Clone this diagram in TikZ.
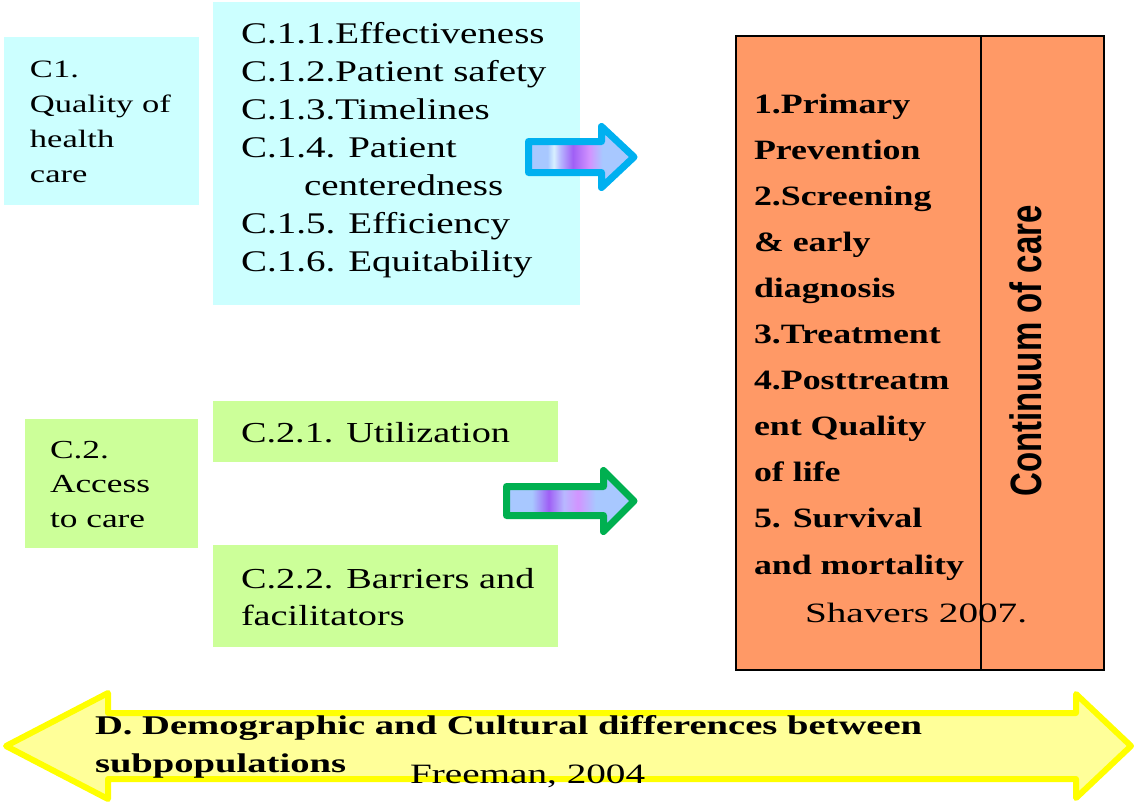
\documentclass[tikz,border=0pt]{standalone}
\usepackage{fontspec}
\setmainfont{Liberation Serif}
\newfontfamily\fCa[FakeStretch=1.38]{Liberation Serif}
\newfontfamily\fCb[FakeStretch=1.3]{Liberation Serif}
\newfontfamily\fCc[FakeStretch=1.36]{Liberation Serif}
\newfontfamily\fCd[FakeStretch=1.32]{Liberation Serif}
\newfontfamily\fOr[FakeStretch=1.28]{Liberation Serif}
\newfontfamily\fSh[FakeStretch=1.4]{Liberation Serif}
\newfontfamily\fDd[FakeStretch=1.43]{Liberation Serif}
\newfontfamily\fFr[FakeStretch=1.4]{Liberation Serif}
\newfontfamily\fSans{Liberation Sans}
\newcommand\txtstack[1]{\begin{tabular}[t]{@{}l@{}}#1\end{tabular}}
\definecolor{cyanbox}{HTML}{CCFFFF}
\definecolor{greenbox}{HTML}{CCFF99}
\definecolor{orangebox}{HTML}{FF9966}
\definecolor{yellowfill}{HTML}{FFFF99}
\definecolor{yellowline}{HTML}{FFFF00}
\definecolor{bluearrowline}{HTML}{00B0F0}
\definecolor{greenarrowline}{HTML}{00B050}
\definecolor{lb}{HTML}{A8C8FF}
\definecolor{wh}{HTML}{D8F0FF}
\definecolor{lil}{HTML}{B8B8FF}
\definecolor{pur}{HTML}{9F5FF5}
\definecolor{pnk}{HTML}{D294FF}
\pgfdeclarehorizontalshading{bluearr}{100bp}{color(0bp)=(lb); color(25bp)=(lb); color(34bp)=(lb); color(37bp)=(wh); color(40bp)=(lil); color(46bp)=(pur); color(54bp)=(pnk); color(60bp)=(lb); color(75bp)=(lb); color(100bp)=(lb)}
\pgfdeclarehorizontalshading{greenarr}{100bp}{color(0bp)=(lb); color(25bp)=(lb); color(35bp)=(lb); color(41.5bp)=(pur); color(47.5bp)=(lil); color(53bp)=(pnk); color(60bp)=(lb); color(75bp)=(lb); color(100bp)=(lb)}
\tikzset{
  box/.style={anchor=north west, inner sep=0, outer sep=0},
  txt/.style={anchor=base west, inner sep=0, outer sep=0, text=black},
  blockarrow/.style={line width=7pt, line join=round},
}
\begin{document}
\begin{tikzpicture}[x=1pt,y=-1pt]
\useasboundingbox (0,0) rectangle (1136,804);
% boxes
\node[box, fill=cyanbox, minimum width=195pt, minimum height=168pt] (c1box) at (4,37) {};
\node[box, fill=cyanbox, minimum width=367pt, minimum height=303pt] (c1list) at (213,2) {};
\node[box, fill=greenbox, minimum width=173pt, minimum height=129pt] (c2box) at (25,419) {};
\node[box, fill=greenbox, minimum width=345pt, minimum height=61pt] (c21box) at (213,401) {};
\node[box, fill=greenbox, minimum width=345pt, minimum height=102pt] (c22box) at (213,545) {};
\node[box, fill=orangebox, draw=black, line width=2pt, minimum width=368pt, minimum height=634pt] (cont) at (736,36) {};
\coordinate (divtop) at (981,36);
\coordinate (divbot) at (981,670);
\draw[line width=2pt] (divtop) -- (divbot);
% texts
\node[txt] (c1t) at (30,77) {\fontsize{25}{35}\fCa\txtstack{C1.\\Quality of\\health\\care}};
\node[txt] (c1lt) at (241,43) {\fontsize{30}{38}\fCb\txtstack{C.1.1.Effectiveness\\C.1.2.Patient safety\\C.1.3.Timelines\\C.1.4. Patient\\\hspace*{63pt}centeredness\\C.1.5. Efficiency\\C.1.6. Equitability}};
\node[txt] (c2t) at (50,458) {\fontsize{26}{34.5}\fCc\txtstack{C.2.\\Access\\to care}};
\node[txt] (c21t) at (241,442) {\fontsize{29}{37}\fCd C.2.1. Utilization};
\node[txt] (c22t) at (241,588) {\fontsize{29}{37}\fCd\txtstack{C.2.2. Barriers and\\facilitators}};
\node[txt] (contt) at (754,113) {\fontsize{28}{46.1}\fOr\bfseries\txtstack{1.Primary\\Prevention\\2.Screening\\\& early\\diagnosis\\3.Treatment\\4.Posttreatm\\ent Quality\\of life\\5. Survival\\and mortality}};
\node[txt] (shav) at (805,622) {\fontsize{28}{30}\fSh Shavers 2007.};
\node[rotate=90, inner sep=0] (contlab) at (1026,351) {\scalebox{1}[1.33]{\fontsize{33}{36}\fSans\bfseries Continuum of care}};
% block arrows
\shadedraw[shading=bluearr, draw=bluearrowline, blockarrow]
  (528.5,141.5) -- (601.5,141.5) -- (601.5,126.5) -- (634,157) -- (601.5,187.5) -- (601.5,172.5) -- (528.5,172.5) -- cycle;
\shadedraw[shading=greenarr, draw=greenarrowline, blockarrow]
  (506.5,486.5) -- (603.5,486.5) -- (603.5,470.5) -- (634,501) -- (603.5,531.5) -- (603.5,515.5) -- (506.5,515.5) -- cycle;
% yellow double arrow
\filldraw[fill=yellowfill, draw=yellowline, line width=6pt, line join=round]
  (6,746) -- (108,693) -- (108,713) -- (1076,713) -- (1076,694) -- (1131,746) -- (1076,798) -- (1076,779) -- (108,779) -- (108,799) -- cycle;
\node[txt] (dtext) at (95,734) {\fontsize{27}{38}\fDd\bfseries\txtstack{D. Demographic and Cultural differences between\\subpopulations}};
\node[txt] (freeman) at (410,783) {\fontsize{28}{30}\fFr Freeman, 2004};
\end{tikzpicture}
\end{document}
